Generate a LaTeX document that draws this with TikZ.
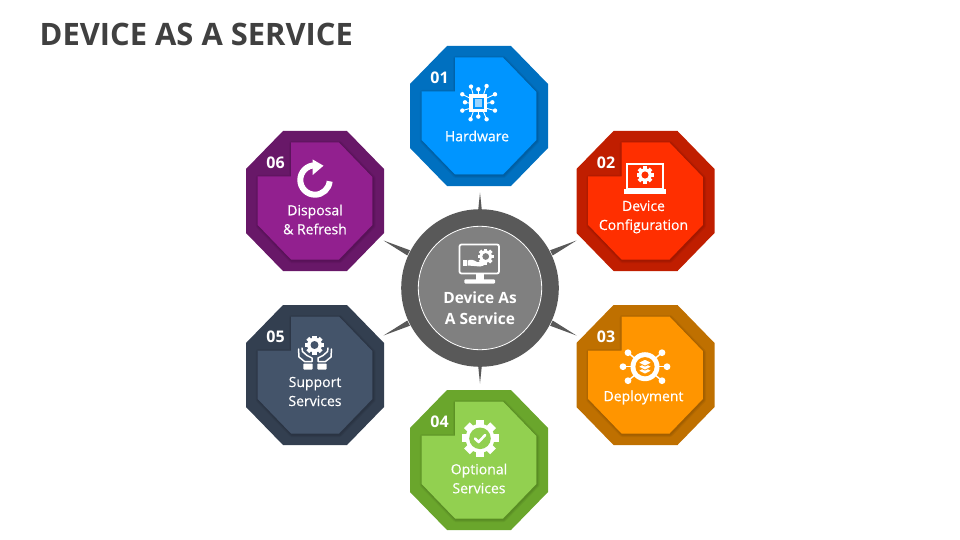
\documentclass[tikz,border=0pt]{standalone}
\usepackage{fontspec}
\setmainfont{Open Sans}
\newfontfamily\stepfont[FakeBold=0.35]{Open Sans}

\definecolor{titlegray}{HTML}{404040}
\definecolor{hubdark}{HTML}{595959}
\definecolor{hublight}{HTML}{808080}
\definecolor{bluedark}{HTML}{0070C0}
\definecolor{bluelight}{HTML}{0095FF}
\definecolor{reddark}{HTML}{C01E00}
\definecolor{redlight}{HTML}{FF2F00}
\definecolor{orangedark}{HTML}{BF7000}
\definecolor{orangelight}{HTML}{FF9500}
\definecolor{greendark}{HTML}{6AA62C}
\definecolor{greenlight}{HTML}{92D050}
\definecolor{navydark}{HTML}{333F50}
\definecolor{navylight}{HTML}{44546A}
\definecolor{purpledark}{HTML}{681868}
\definecolor{purplelight}{HTML}{92208F}

\tikzset{
  steptext/.style={text=white,align=center,inner sep=0pt,font=\fontsize{14}{19}\selectfont\stepfont},
  stepnum/.style={text=white,inner sep=0pt,font=\fontsize{16}{16}\selectfont\bfseries},
  hubtext/.style={text=white,align=center,inner sep=0pt,font=\fontsize{15.5}{21}\selectfont\bfseries},
  iconline/.style={draw=white,line width=1.5pt,line cap=round,line join=round}
}

% octagon with notched face: name, x, y, dark colour, light colour, number
\newcommand{\octagon}[6]{
  \begin{scope}[shift={(#2,#3)}]
    \fill [#4] (-32,-70) -- (32,-70) -- (69,-32) -- (69,32) -- (32,70)
      -- (-32,70) -- (-69,32) -- (-69,-32) -- cycle;
    \foreach \w in {5,3,1.5}
      \draw [black,opacity=0.05,line width=\w pt,line join=round,shift={(0.7,1)}]
        (-24,-58.5) -- (24,-58.5) -- (57.3,-24) -- (57.3,24) -- (24,58.5)
        -- (-24,58.5) -- (-57.3,24) -- (-57.3,-24.5) -- (-24,-24.5) -- cycle;
    \fill [#5] (-24,-58.5) -- (24,-58.5) -- (57.3,-24) -- (57.3,24) -- (24,58.5)
      -- (-24,58.5) -- (-57.3,24) -- (-57.3,-24.5) -- (-24,-24.5) -- cycle;
    \node [stepnum] (#1num) at (-39.5,-38.5) {#6};
  \end{scope}
}

% gear: x, y, radius, gear colour, hole colour
\newcommand{\gearicon}[5]{
  \begin{scope}[shift={(#1,#2)}]
    \foreach \a in {0,45,90,135}
      \fill [#4,rotate=\a] (-0.22*#3,-#3) rectangle (0.22*#3,#3);
    \fill [#4] (0,0) circle (0.78*#3);
    \fill [#5] (0,0) circle (0.42*#3);
  \end{scope}
}

\begin{document}
\begin{tikzpicture}[x=1pt,y=-1pt]
  \useasboundingbox (0,0) rectangle (960,540);
  \node [anchor=base west,inner sep=0pt,text=titlegray,font=\fontsize{30.9}{30}\selectfont\bfseries]
    (title) at (39.5,46) {DEVICE AS A SERVICE};

  % Draw spikes and hub
  \foreach \dx/\dy in {0/-95.5,96.5/-47.5,96.5/47.5,0/95.5,-96.5/47.5,-96.5/-47.5}
    \fill [hubdark,shift={(480,288)}] (\dx,\dy)
      -- ({0.74*\dx-0.027*\dy},{0.74*\dy+0.027*\dx})
      -- ({0.74*\dx+0.027*\dy},{0.74*\dy-0.027*\dx}) -- cycle;
  \fill [hubdark] (480,288) circle (78.8);
  \draw [white,fill=hublight,line width=0.8pt] (480,288) circle (61.7);
  \node [hubtext] (hub) at (480,308) {Device As\\A Service};

  % Draw octagons
  \octagon{hardware}{479}{116}{bluedark}{bluelight}{01}
  \octagon{config}{645.5}{201}{reddark}{redlight}{02}
  \octagon{deploy}{645.5}{375}{orangedark}{orangelight}{03}
  \octagon{optional}{479}{460}{greendark}{greenlight}{04}
  \octagon{support}{315}{375}{navydark}{navylight}{05}
  \octagon{disposal}{315}{201}{purpledark}{purplelight}{06}

  \node [steptext] (hardwaretext) at (477,136) {Hardware};
  \node [steptext] (configtext) at (643.5,217) {Device\\Configuration};
  \node [steptext] (deploytext) at (643.5,397.5) {Deployment};
  \node [steptext] (optionaltext) at (479,478.5) {Optional\\Services};
  \node [steptext] (supporttext) at (315,391.5) {Support\\Services};
  \node [steptext] (disposaltext) at (315,219.5) {Disposal\\\& Refresh};

  % Hub icon
  \draw [iconline,line width=1.8pt,rounded corners=2pt] (459.5,244.5) rectangle (499,273.5);
  \fill [white] (476,273.5) rectangle (484,280);
  \fill [white,rounded corners=1pt] (464.3,279.3) rectangle (495,283.5);
  \gearicon{485.7}{256.5}{8}{white}{hublight}
  \fill [white] (463.3,259.5) rectangle (466.5,265.5);
  \fill [white] (467.7,260.5) .. controls (471,259) and (474,260) .. (477,262)
    -- (481,262) -- (487,260.5) .. controls (488,263) and (484,266) .. (480,266.5)
    -- (467.7,265.5) -- cycle;

  % Hardware icon
  \begin{scope}[shift={(478.3,103.3)}]
    \foreach \px/\py/\sx/\sy in {-7.3/-16.7/-5/-8,0/-14/0/-8,8.3/-17.3/5/-8,16.7/-9/8/-5,14/-1/8/0,16.7/7.3/8/5,
                                 8.3/16/5/8,0/13.3/0/8,-7.7/16/-5/8,-16/7.3/-8/5,-13.3/-1/-8/0,-16/-9/-8/-5}{
      \draw [white,line width=0.9pt] (\sx,\sy) -- (\px,\py);
      \fill [white] (\px,\py) circle (2.2);
    }
    \fill [white] (-9,-9) rectangle (9,9);
    \fill [bluelight] (-5.5,-5.5) rectangle (5.5,5.5);
    \fill [white,opacity=0.6] (-3.8,-3.8) rectangle (3.8,3.8);
  \end{scope}

  % Configuration icon
  \draw [iconline,line width=2pt,line cap=butt,line join=miter] (627,164) rectangle (663.3,188.5);
  \fill [white] (624,189) -- (666,189) -- (666,193.5) -- (624,193.5) -- cycle;
  \gearicon{645}{175}{8.5}{white}{redlight}

  % Deployment icon
  \begin{scope}[shift={(645,366.7)}]
    \foreach \px/\py in {-17/-14,17/-14,-22/0,22/0,-17/14,17/14}{
      \draw [white,line width=1.4pt] (0,0) -- (\px,\py);
      \fill [white] (\px,\py) circle (3.4);
    }
    \fill [white] (0,0) circle (14.5);
    \fill [orangelight] (0,0) circle (9.6);
    \foreach \dy in {4,0,-4}
      \draw [fill=white,draw=orangelight,line width=0.8pt,line join=round]
        (-7,\dy) -- (0,\dy-3.4) -- (7,\dy) -- (0,\dy+3.4) -- cycle;
  \end{scope}

  % Optional icon
  \gearicon{480}{438.3}{18.5}{white}{white}
  \fill [greenlight] (480,438.3) circle (10.8);
  \draw [iconline,line width=2.6pt] (475,438.5) -- (478.6,442) -- (485.2,435);

  % Support icon
  \gearicon{314.5}{345}{9.5}{white}{navylight}
  \foreach \s in {-1,1}{
    \begin{scope}[shift={(315,0)},xscale=\s]
      \draw [iconline] (-16.5,349) -- (-16,357) -- (-10.5,361.5) -- (-3,361.5) -- (-3,358)
        -- (-8,355.5) -- (-12.5,351.5) -- (-13,348);
      \fill [white,rounded corners=0.8pt] (-11.7,363.5) rectangle (-2.3,369.5);
    \end{scope}
  }

  % Disposal icon
  \draw [white,line width=6pt] (315,165.3) arc [start angle=-90,end angle=-355,radius=14.7];
  \fill [white] (312.7,159.5) -- (323.5,165.7) -- (312.7,175) -- cycle;
\end{tikzpicture}
\end{document}
